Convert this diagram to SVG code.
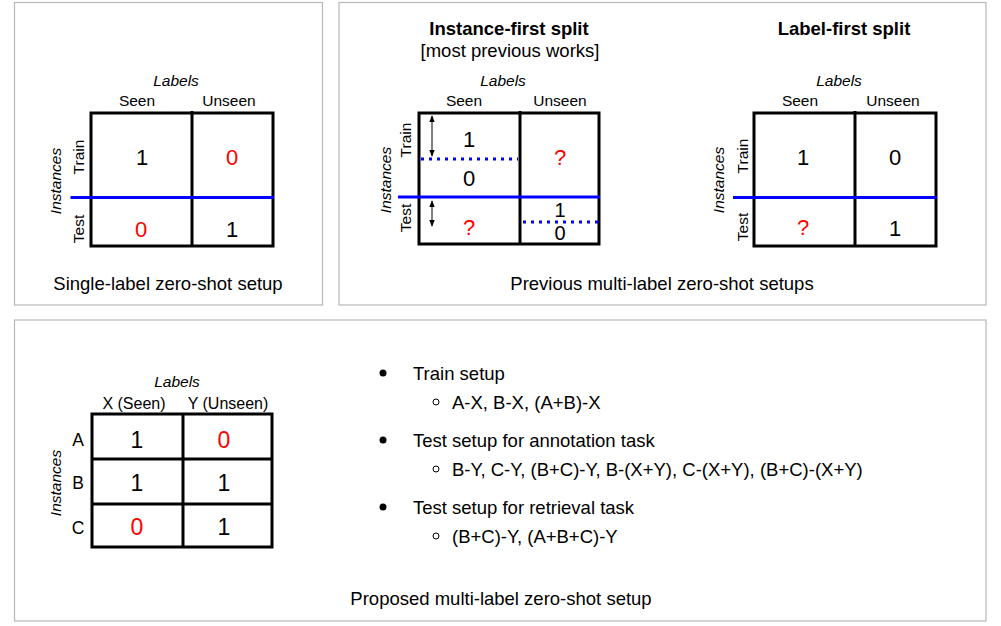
<svg xmlns="http://www.w3.org/2000/svg" width="1001" height="626" viewBox="0 0 1001 626">
<defs>
<style>
text{font-family:"Liberation Sans",Arial,sans-serif;fill:#000;}
.panel{fill:#fff;stroke:#b7b7b7;stroke-width:1.2;}
.tbl{fill:none;stroke:#000;stroke-width:3;}
.blue{stroke:#0000ff;stroke-width:3;}
.dot{stroke:#0000ff;stroke-width:3;stroke-dasharray:3 5;}
.lab{font-size:15.5px;text-anchor:middle;dominant-baseline:central;}
.lab2{font-size:16px;text-anchor:middle;dominant-baseline:central;}
.row{font-size:17.5px;text-anchor:middle;dominant-baseline:central;}
.it{font-size:15.5px;font-style:italic;text-anchor:middle;dominant-baseline:central;}
.num{font-size:22px;text-anchor:middle;dominant-baseline:central;}
.num2{font-size:23px;text-anchor:middle;dominant-baseline:central;}
.sm{font-size:20px;text-anchor:middle;dominant-baseline:central;}
.red{fill:#ff0000;}
.cap{font-size:18.5px;text-anchor:middle;dominant-baseline:central;}
.ttl{font-size:18.5px;font-weight:bold;text-anchor:middle;dominant-baseline:central;}
.bl{font-size:18.5px;dominant-baseline:central;}
.arr{stroke:#000;stroke-width:1;fill:none;}
</style>
<marker id="ah" viewBox="0 0 10 10" refX="9" refY="5" markerWidth="7" markerHeight="7" orient="auto-start-reverse" markerUnits="userSpaceOnUse">
<path d="M0,1 L10,5 L0,9 z" fill="#000"/>
</marker>
</defs>
<rect width="1001" height="626" fill="#fff"/>

<g id="panel-single">
<rect class="panel" x="14.5" y="2.5" width="308" height="302.5"/>
<text class="it" x="176" y="80">Labels</text>
<text class="lab" x="137" y="100">Seen</text>
<text class="lab" x="229" y="100">Unseen</text>
<text class="it" transform="translate(55,181) rotate(-90)">Instances</text>
<text class="lab" transform="translate(78,157) rotate(-90)">Train</text>
<text class="lab" transform="translate(78,229) rotate(-90)">Test</text>
<rect class="tbl" x="91" y="113" width="182" height="133"/>
<line class="tbl" x1="192" y1="111" x2="192" y2="246"/>
<line class="blue" x1="70.5" y1="197.5" x2="274" y2="197.5"/>
<text class="num" x="142" y="157">1</text>
<text class="num red" x="232" y="157">0</text>
<text class="num red" x="141" y="229">0</text>
<text class="num" x="232" y="229">1</text>
<text class="cap" x="168" y="283">Single-label zero-shot setup</text>
</g>

<g id="panel-previous">
<rect class="panel" x="339" y="2.5" width="647" height="302.5"/>
<text class="ttl" x="509" y="28">Instance-first split</text>
<text class="cap" x="510" y="50">[most previous works]</text>
<text class="ttl" x="844" y="28">Label-first split</text>
<text class="cap" x="662" y="283">Previous multi-label zero-shot setups</text>
</g>

<g id="table-instance-first">
<text class="it" x="503" y="80">Labels</text>
<text class="lab" x="464" y="100">Seen</text>
<text class="lab" x="560" y="100">Unseen</text>
<text class="it" transform="translate(385,180) rotate(-90)">Instances</text>
<text class="lab" transform="translate(405,140) rotate(-90)">Train</text>
<text class="lab" transform="translate(405,218) rotate(-90)">Test</text>
<rect class="tbl" x="419" y="113" width="180" height="131"/>
<line class="tbl" x1="520" y1="111" x2="520" y2="244"/>
<line class="dot" x1="421" y1="159" x2="518" y2="159"/>
<line class="dot" x1="523" y1="222" x2="598" y2="222"/>
<line class="blue" x1="398" y1="197" x2="600" y2="197"/>
<text class="num" x="469" y="139">1</text>
<text class="num" x="469" y="178">0</text>
<text class="num red" x="560" y="157">?</text>
<text class="num red" x="469" y="227">?</text>
<text class="sm" x="560" y="210">1</text>
<text class="sm" x="560" y="233">0</text>
</g>

<g id="table-label-first">
<text class="it" x="839" y="80">Labels</text>
<text class="lab" x="800" y="100">Seen</text>
<text class="lab" x="893" y="100">Unseen</text>
<text class="it" transform="translate(718,180) rotate(-90)">Instances</text>
<text class="lab" transform="translate(742,156) rotate(-90)">Train</text>
<text class="lab" transform="translate(742,227) rotate(-90)">Test</text>
<rect class="tbl" x="754" y="113" width="182" height="133"/>
<line class="tbl" x1="855" y1="111" x2="855" y2="246"/>
<line class="blue" x1="733" y1="197.5" x2="937" y2="197.5"/>
<text class="num" x="803" y="157">1</text>
<text class="num" x="895" y="157">0</text>
<text class="num red" x="803" y="227">?</text>
<text class="num" x="895" y="228">1</text>
</g>

<g id="connectors">
<line class="arr" x1="432" y1="116" x2="432" y2="156" marker-start="url(#ah)" marker-end="url(#ah)"/>
<line class="arr" x1="432" y1="201" x2="432" y2="226" marker-start="url(#ah)" marker-end="url(#ah)"/>
</g>

<g id="panel-proposed">
<rect class="panel" x="14.5" y="320" width="971.5" height="301"/>
<text class="cap" x="501" y="598">Proposed multi-label zero-shot setup</text>
</g>

<g id="table-proposed">
<text class="it" x="177" y="381">Labels</text>
<text class="lab2" x="134" y="403">X (Seen)</text>
<text class="lab2" x="228" y="403">Y (Unseen)</text>
<text class="it" transform="translate(55,483) rotate(-90)">Instances</text>
<text class="row" x="78" y="440">A</text>
<text class="row" x="78" y="483">B</text>
<text class="row" x="78" y="528">C</text>
<rect class="tbl" x="92" y="414" width="180" height="133"/>
<line class="tbl" x1="92" y1="459" x2="272" y2="459"/>
<line class="tbl" x1="92" y1="504" x2="272" y2="504"/>
<line class="tbl" x1="183" y1="414" x2="183" y2="547"/>
<text class="num2" x="137" y="440">1</text>
<text class="num2 red" x="224" y="440">0</text>
<text class="num2" x="137" y="483">1</text>
<text class="num2" x="224" y="483">1</text>
<text class="num2 red" x="137" y="527">0</text>
<text class="num2" x="224" y="527">1</text>
</g>

<g id="bullets">
<circle cx="383" cy="373" r="3.5" fill="#000"/>
<text class="bl" x="413" y="373">Train setup</text>
<circle cx="436" cy="402" r="3" fill="none" stroke="#000" stroke-width="1"/>
<text class="bl" x="452" y="402">A-X, B-X, (A+B)-X</text>
<circle cx="383" cy="440" r="3.5" fill="#000"/>
<text class="bl" x="413" y="440">Test setup for annotation task</text>
<circle cx="436" cy="469" r="3" fill="none" stroke="#000" stroke-width="1"/>
<text class="bl" x="452" y="469">B-Y, C-Y, (B+C)-Y, B-(X+Y), C-(X+Y), (B+C)-(X+Y)</text>
<circle cx="383" cy="507" r="3.5" fill="#000"/>
<text class="bl" x="413" y="507">Test setup for retrieval task</text>
<circle cx="436" cy="536" r="3" fill="none" stroke="#000" stroke-width="1"/>
<text class="bl" x="452" y="536">(B+C)-Y, (A+B+C)-Y</text>
</g>
</svg>
